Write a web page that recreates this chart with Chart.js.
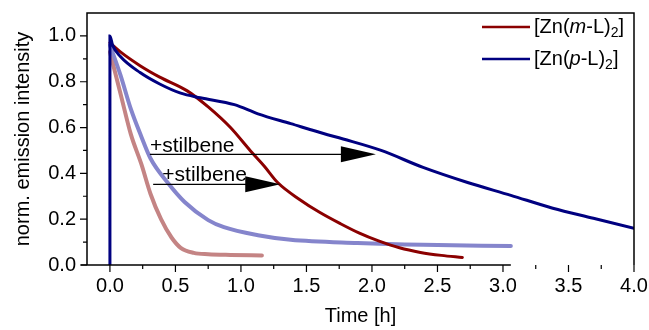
<!DOCTYPE html>
<html>
<head>
<meta charset="utf-8">
<script src="https://cdn.jsdelivr.net/npm/chart.js@4.4.1/dist/chart.umd.min.js"></script>
<style>
  html, body { margin: 0; padding: 0; background: #fff; }
</style>
</head>
<body>
<canvas id="chart" width="649" height="330"></canvas>
<script>
// Emission decay of the two Zn complexes, with and without stilbene

const FONT = '"Liberation Sans", Arial, sans-serif';

// [Zn(m-L)2]
const mlTime   = [0, 0.08, 0.23, 0.38, 0.59, 0.75, 0.92, 1.07, 1.18, 1.28, 1.45, 1.6, 1.76, 1.9, 2.05, 2.21, 2.37, 2.53, 2.69];
const mlValues = [0.97, 0.93, 0.87, 0.82, 0.76, 0.69, 0.60, 0.50, 0.43, 0.36, 0.285, 0.23, 0.18, 0.14, 0.105, 0.075, 0.055, 0.042, 0.033];

// [Zn(p-L)2]
const plTime   = [0, 0, 0.02, 0.08, 0.23, 0.38, 0.54, 0.69, 0.95, 1.13, 1.38, 1.63, 1.78, 2.07, 2.39, 2.73, 3.06, 3.38, 3.69, 4.0];
const plValues = [0, 1.0, 0.96, 0.91, 0.84, 0.79, 0.75, 0.73, 0.70, 0.66, 0.617, 0.574, 0.55, 0.50, 0.426, 0.36, 0.304, 0.248, 0.204, 0.16];

// [Zn(m-L)2] + stilbene
const mlStilTime   = [0, 0.08, 0.16, 0.24, 0.31, 0.39, 0.47, 0.54, 0.64, 0.75, 0.92, 1.16];
const mlStilValues = [0.93, 0.75, 0.57, 0.44, 0.31, 0.20, 0.12, 0.075, 0.053, 0.047, 0.044, 0.042];

// [Zn(p-L)2] + stilbene
const plStilTime   = [0, 0.08, 0.16, 0.24, 0.31, 0.44, 0.57, 0.75, 0.87, 1.13, 1.38, 1.89, 2.39, 3.06];
const plStilValues = [0.96, 0.83, 0.68, 0.56, 0.465, 0.36, 0.275, 0.196, 0.165, 0.13, 0.11, 0.096, 0.088, 0.083];

// axes
const xTicks = [0, 0.5, 1.0, 1.5, 2.0, 2.5, 3.0, 3.5, 4.0];
const xMinorTicks = [0.25, 0.75, 1.25, 1.75, 2.25, 2.75, 3.25, 3.75];
const yTicks = [0, 0.2, 0.4, 0.6, 0.8, 1.0];
const yMinorTicks = [0.1, 0.3, 0.5, 0.7, 0.9];

// "+stilbene" arrows (data coordinates)
const arrowLabels = ['+stilbene', '+stilbene'];
const arrowFromX  = [0.305, 0.33];
const arrowToX    = [2.03, 1.30];
const arrowY      = [0.483, 0.352];
const labelX      = [0.305, 0.40];
const labelY      = [0.52, 0.39];

// legend text pieces: normal, italic, normal, subscript, normal
const legendParts = [
    ['[Zn(', 'm', '-L)', '2', ']'],
    ['[Zn(', 'p', '-L)', '2', ']']
];
const legendColors = ['#8b0000', '#000080'];

function toPoints(xs, ys) {
    return xs.map((x, i) => ({ x: x, y: ys[i] }));
}

const decorPlugin = {
    id: 'decor',
    afterDraw(chart) {
        const ctx = chart.ctx;
        const area = chart.chartArea;
        const xs = chart.scales.x;
        const ys = chart.scales.y;

        ctx.save();
        ctx.strokeStyle = '#000';
        ctx.fillStyle = '#000';

        // frame: left, top, right, bottom (bottom stops where the light blue trace ends)
        ctx.lineWidth = 1.5;
        ctx.beginPath();
        ctx.moveTo(area.left, area.bottom);
        ctx.lineTo(area.left, area.top);
        ctx.lineTo(area.right, area.top);
        ctx.lineTo(area.right, area.bottom);
        ctx.stroke();
        ctx.beginPath();
        ctx.moveTo(area.left - 6, area.bottom);
        ctx.lineTo(xs.getPixelForValue(3.06), area.bottom);
        ctx.stroke();

        // ticks pointing outwards
        ctx.lineWidth = 1.2;
        ctx.beginPath();
        xTicks.forEach(v => {
            const px = xs.getPixelForValue(v);
            ctx.moveTo(px, area.bottom);
            ctx.lineTo(px, area.bottom + 7);
        });
        xMinorTicks.forEach(v => {
            const px = xs.getPixelForValue(v);
            ctx.moveTo(px, area.bottom);
            ctx.lineTo(px, area.bottom + 4);
        });
        yTicks.forEach(v => {
            const py = ys.getPixelForValue(v);
            ctx.moveTo(area.left, py);
            ctx.lineTo(area.left - 7, py);
        });
        yMinorTicks.forEach(v => {
            const py = ys.getPixelForValue(v);
            ctx.moveTo(area.left, py);
            ctx.lineTo(area.left - 4, py);
        });
        ctx.stroke();

        // arrows with labels
        ctx.font = '21px ' + FONT;
        ctx.textAlign = 'left';
        ctx.textBaseline = 'middle';
        arrowLabels.forEach((label, i) => {
            const x0 = xs.getPixelForValue(arrowFromX[i]);
            const x1 = xs.getPixelForValue(arrowToX[i]);
            const y = ys.getPixelForValue(arrowY[i]);
            ctx.lineWidth = 1.2;
            ctx.beginPath();
            ctx.moveTo(x0, y);
            ctx.lineTo(x1 - 30, y);
            ctx.stroke();
            ctx.beginPath();
            ctx.moveTo(x1, y);
            ctx.lineTo(x1 - 35, y - 8);
            ctx.lineTo(x1 - 35, y + 8);
            ctx.closePath();
            ctx.fill();
            ctx.fillText(label, xs.getPixelForValue(labelX[i]), ys.getPixelForValue(labelY[i]));
        });

        // legend
        legendParts.forEach((parts, i) => {
            const y = area.top + 14 + i * 32;
            const styles = ['', 'italic ', '', '', ''];
            let x = area.right - 100;
            ctx.strokeStyle = legendColors[i];
            ctx.lineWidth = 2.5;
            ctx.beginPath();
            ctx.moveTo(x - 52, y);
            ctx.lineTo(x - 4, y);
            ctx.stroke();
            ctx.fillStyle = '#000';
            parts.forEach((p, j) => {
                const sub = j === 3;
                ctx.font = styles[j] + (sub ? '14px ' : '20px ') + FONT;
                ctx.fillText(p, x, sub ? y + 6 : y);
                x += ctx.measureText(p).width;
            });
        });
        ctx.restore();
    }
};

new Chart(document.getElementById('chart'), {
    type: 'line',
    data: {
        datasets: [
            {
                label: '[Zn(p-L)2]',
                data: toPoints(plTime, plValues),
                borderColor: '#000080',
                borderWidth: 3,
                order: 0
            },
            {
                label: '[Zn(m-L)2]',
                data: toPoints(mlTime, mlValues),
                borderColor: '#8b0000',
                borderWidth: 3,
                order: 1
            },
            {
                label: '[Zn(p-L)2] + stilbene',
                data: toPoints(plStilTime, plStilValues),
                borderColor: '#8585cc',
                borderWidth: 4,
                order: 2
            },
            {
                label: '[Zn(m-L)2] + stilbene',
                data: toPoints(mlStilTime, mlStilValues),
                borderColor: '#c48484',
                borderWidth: 4,
                order: 3
            }
        ]
    },
    options: {
        responsive: false,
        animation: false,
        devicePixelRatio: 1,
        parsing: false,
        elements: {
            point: { radius: 0 },
            line: { cubicInterpolationMode: 'monotone', fill: false, borderCapStyle: 'round' }
        },
        layout: { padding: { left: 0, right: 15, top: 13, bottom: 0 } },
        plugins: {
            legend: { display: false },
            tooltip: { enabled: false }
        },
        scales: {
            x: {
                type: 'linear',
                min: -0.175,
                max: 4.0,
                afterBuildTicks: s => { s.ticks = xTicks.map(v => ({ value: v })); },
                afterFit: s => { s.height = 65; s.paddingLeft = 0; s.paddingRight = 0; },
                grid: { display: false, drawTicks: false },
                border: { display: false },
                ticks: {
                    color: '#000',
                    padding: 9,
                    maxRotation: 0,
                    font: { family: FONT, size: 20 },
                    callback: v => v.toFixed(1)
                },
                title: {
                    display: true,
                    text: 'Time [h]',
                    color: '#000',
                    font: { family: FONT, size: 20 },
                    padding: { top: 0, bottom: 2 }
                }
            },
            y: {
                type: 'linear',
                min: 0,
                max: 1.1,
                afterBuildTicks: s => { s.ticks = yTicks.map(v => ({ value: v })); },
                afterFit: s => { s.width = 87; s.paddingTop = 0; s.paddingBottom = 0; },
                grid: { display: false, drawTicks: false },
                border: { display: false },
                ticks: {
                    color: '#000',
                    padding: 11,
                    font: { family: FONT, size: 20 },
                    callback: v => v.toFixed(1)
                },
                title: {
                    display: true,
                    text: 'norm. emission intensity',
                    color: '#000',
                    font: { family: FONT, size: 20 },
                    padding: { top: 11, bottom: 0 }
                }
            }
        }
    },
    plugins: [decorPlugin]
});
</script>
</body>
</html>
